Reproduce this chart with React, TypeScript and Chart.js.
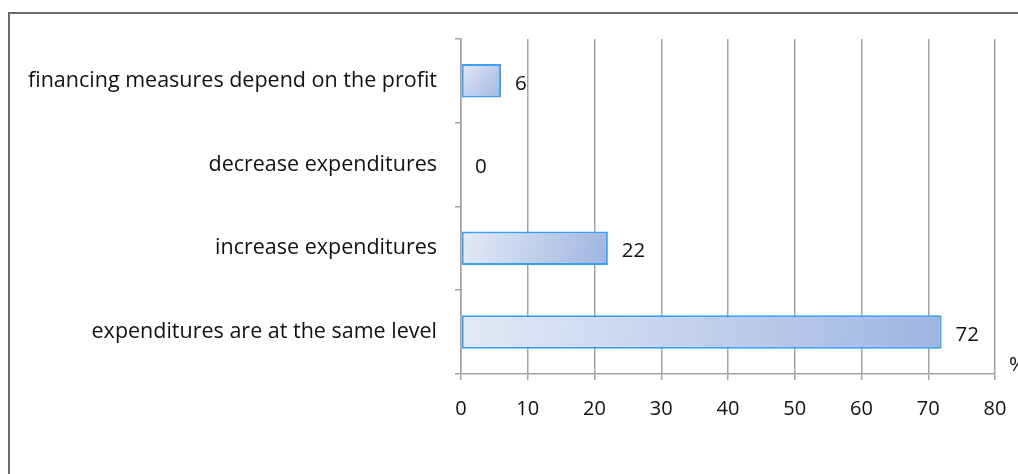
import React, { useEffect, useRef } from "react";
import { Chart, registerables } from "chart.js";

Chart.register(...registerables);

const categories = [
  "financing measures depend on the profit",
  "decrease expenditures",
  "increase expenditures",
  "expenditures are at the same level",
];
const values = [6, 0, 22, 72];
const xTicks = [0, 10, 20, 30, 40, 50, 60, 70, 80];
const unitLabel = "%";

const FONT = "'Open Sans', sans-serif";
const GRID = "#a3a3a3";

export default function App() {
  const ref = useRef<HTMLCanvasElement | null>(null);

  useEffect(() => {
    const canvas = ref.current;
    if (!canvas) return;

    const labelPlugin = {
      id: "valueLabels",
      afterDatasetsDraw(chart: any) {
        const ctx = chart.ctx;
        const meta = chart.getDatasetMeta(0);
        ctx.save();
        ctx.font = `20.5px ${FONT}`;
        ctx.fillStyle = "#111";
        ctx.textAlign = "left";
        ctx.textBaseline = "middle";
        meta.data.forEach((el: any, i: number) => {
          ctx.fillText(String(values[i]), el.x + 14, el.y + 3);
        });
        const xs = chart.scales.x;
        ctx.fillText(unitLabel, xs.right + 14, xs.top - 9);
        ctx.restore();
      },
    };

    const chart = new Chart(canvas, {
      type: "bar",
      data: {
        labels: categories,
        datasets: [
          {
            data: values,
            barPercentage: 0.4,
            categoryPercentage: 1,
            borderColor: "#3a9ef5",
            borderWidth: 2,
            borderSkipped: false,
            backgroundColor: (c: any) => {
              const chart = c.chart;
              if (!chart.chartArea || c.type !== "data") return "#c5d2ee";
              const xs = chart.scales.x;
              const ys = chart.scales.y;
              const x0 = xs.getPixelForValue(0);
              const x1 = Math.max(xs.getPixelForValue(values[c.dataIndex]), x0 + 1);
              const yc = ys.getPixelForValue(c.dataIndex);
              const g = chart.ctx.createLinearGradient(x0, yc - 17, x1, yc + 17);
              g.addColorStop(0, "#e4eaf6");
              g.addColorStop(1, "#9fb5e1");
              return g;
            },
          },
        ],
      },
      options: {
        indexAxis: "y",
        animation: false,
        responsive: false,
        maintainAspectRatio: false,
        layout: { padding: { top: 30, right: 23, left: 0, bottom: 0 } },
        plugins: {
          legend: { display: false },
          tooltip: { enabled: false },
        },
        scales: {
          x: {
            type: "linear",
            min: 0,
            max: 80,
            afterBuildTicks: (s: any) => {
              s.ticks = xTicks.map((v) => ({ value: v }));
            },
            afterFit: (s: any) => {
              s.height = 100;
              s.paddingLeft = 0;
              s.paddingRight = 0;
            },
            grid: {
              color: GRID,
              lineWidth: 1.5,
              tickLength: 6,
              drawTicks: true,
            },
            border: { display: true, color: GRID, width: 1.5 },
            ticks: {
              padding: 17,
              color: "#111",
              font: { family: FONT, size: 20 },
              maxRotation: 0,
            },
          },
          y: {
            type: "category",
            afterFit: (s: any) => {
              s.width = 453;
            },
            grid: {
              display: true,
              drawOnChartArea: false,
              drawTicks: true,
              tickLength: 6,
              color: GRID,
              lineWidth: 1.5,
              offset: true,
            },
            border: { display: true, color: GRID, width: 1.5 },
            ticks: {
              padding: 18,
              color: "#111",
              font: { family: FONT, size: 21.5 },
            },
          },
        },
      },
      plugins: [labelPlugin],
    } as any);

    return () => chart.destroy();
  }, []);

  return (
    <div
      style={{
        position: "fixed",
        left: 8,
        top: 8,
        width: 1010,
        height: 466,
        overflow: "hidden",
      }}
    >
      <div
        style={{
          position: "absolute",
          left: 0,
          top: 4,
          width: 1200,
          height: 800,
          border: "2px solid #6a6a6a",
          boxSizing: "border-box",
        }}
      />
      <canvas
        ref={ref}
        width={1010}
        height={466}
        style={{ position: "absolute", left: 0, top: 0, width: 1010, height: 466 }}
      />
    </div>
  );
}
